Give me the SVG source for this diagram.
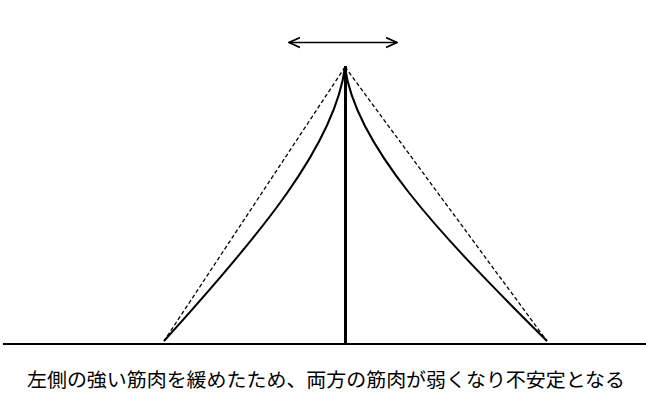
<svg xmlns="http://www.w3.org/2000/svg" width="646" height="410" viewBox="0 0 646 410">
<style>
.solid{fill:none;stroke:#000;stroke-width:2}
.dash{fill:none;stroke:#000;stroke-width:1.3;stroke-dasharray:4 2.5}
.label{font-family:"Noto Sans CJK JP","Noto Sans CJK SC",sans-serif;font-size:19.5px;fill:#000}
</style>
<defs>
<marker id="chev" viewBox="0 0 12 12" refX="11" refY="6" markerWidth="12" markerHeight="12" markerUnits="userSpaceOnUse" orient="auto-start-reverse">
<path d="M0,1 L11,6 L0,11" fill="none" stroke="#000" stroke-width="1.6"/>
</marker>
</defs>
<rect width="646" height="410" fill="#fff"/>
<g id="ground">
<line x1="3" y1="344" x2="646" y2="344" stroke="#000" stroke-width="2"/>
</g>
<g id="pole">
<line x1="345.5" y1="66" x2="345.5" y2="344" stroke="#000" stroke-width="3"/>
</g>
<g id="connectors">
<line class="dash" x1="345" y1="67" x2="164" y2="341"/>
<line class="dash" x1="345" y1="67" x2="547" y2="341"/>
<path class="solid" d="M345,67 C335,145 260,235 164,341"/>
<path class="solid" d="M345,67 C355,145 440,235 547,341"/>
<line x1="289" y1="42.5" x2="397" y2="42.5" stroke="#000" stroke-width="1.6" marker-start="url(#chev)" marker-end="url(#chev)"/>
</g>
<g id="caption">
<text class="label" x="27" y="387" textLength="598" lengthAdjust="spacingAndGlyphs">左側の強い筋肉を緩めたため、両方の筋肉が弱くなり不安定となる</text>
</g>
</svg>
